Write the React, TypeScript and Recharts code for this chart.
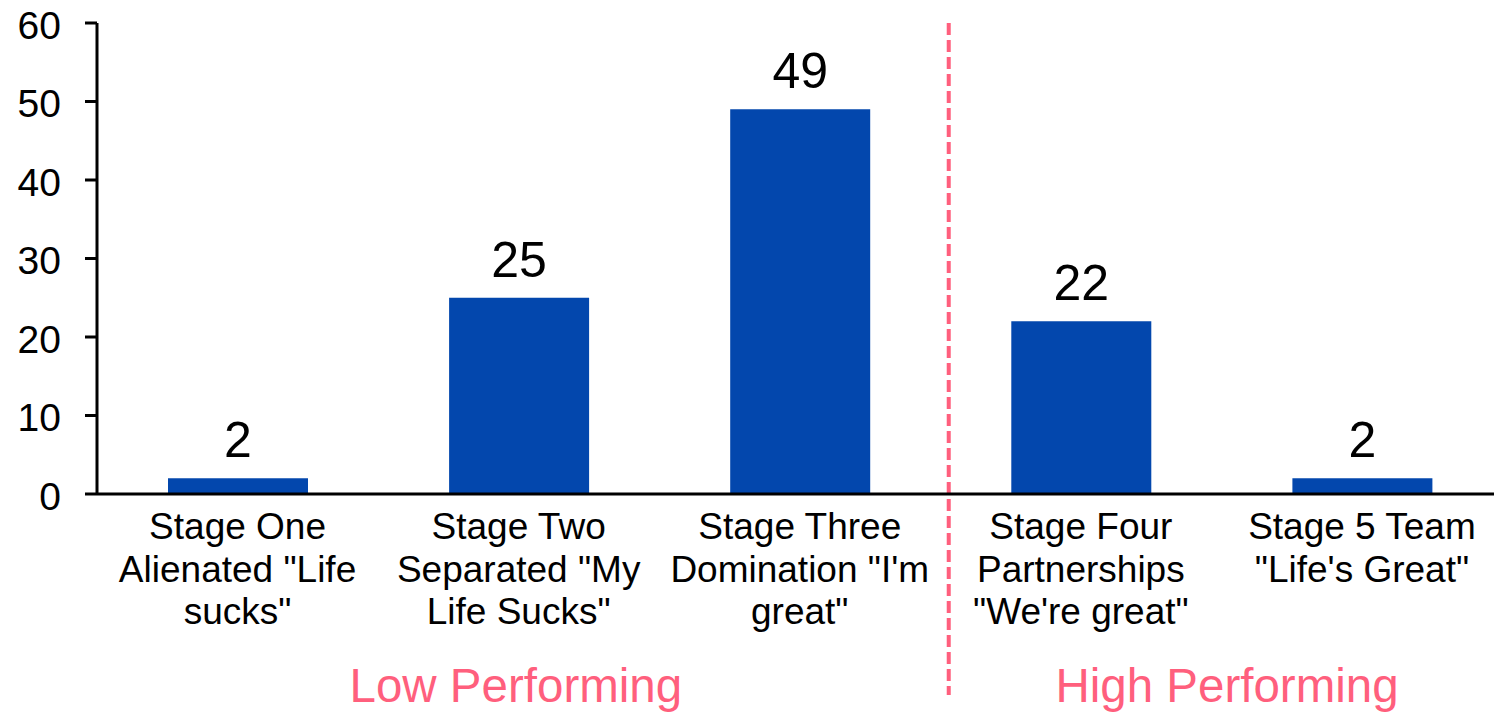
import React from "react";
import {
  BarChart,
  Bar,
  XAxis,
  YAxis,
  LabelList,
  ReferenceLine,
  ReferenceDot,
} from "recharts";

const categories = [
  'Stage One\nAlienated "Life\nsucks"',
  'Stage Two\nSeparated "My\nLife Sucks"',
  'Stage Three\nDomination "I\'m\ngreat"',
  'Stage Four\nPartnerships\n"We\'re great"',
  'Stage 5 Team\n"Life\'s Great"',
];
const values = [2, 25, 49, 22, 2];
const yTicks = [0, 10, 20, 30, 40, 50, 60];
const groupLabels = ["Low Performing", "High Performing"];
const groupCenters = [1.49, 4.02];
const dividerPos = 3.03;
const dividerRange = [60, -25.6];
const groupLabelY = -24.3;

const data = categories.map((c, i) => ({ name: c, value: values[i], pos: i + 0.5 }));

const FONT = "'Liberation Sans', Arial, Helvetica, sans-serif";
const PINK = "#FF5F7D";
const BLUE = "#0347AD";

const CategoryTick = (props: any) => {
  const { x, y, payload } = props;
  const lines = String(payload.value).split("\n");
  return (
    <g>
      {lines.map((l: string, i: number) => (
        <text
          key={i}
          x={x}
          y={y + 45 + i * 42.5}
          textAnchor="middle"
          fontSize={37}
          fontFamily={FONT}
          fill="#000"
        >
          {l}
        </text>
      ))}
    </g>
  );
};

export default function App() {
  return (
    <div style={{ position: "absolute", left: 0, top: 0, width: 1494, height: 712, overflow: "hidden", background: "#fff" }}>
      <BarChart
        width={1494}
        height={712}
        data={data}
        margin={{ top: 23, right: -8.5, bottom: 0, left: 0 }}
        barCategoryGap={0}
      >
        <XAxis
          dataKey="name"
          interval={0}
          tickLine={false}
          tickSize={0}
          tickMargin={0}
          height={218}
          axisLine={{ stroke: "#000", strokeWidth: 3 }}
          tick={<CategoryTick />}
        />
        <XAxis
          xAxisId="num"
          dataKey="pos"
          type="number"
          domain={[0, 5]}
          allowDataOverflow
          hide
        />
        <YAxis
          domain={[0, 60]}
          ticks={yTicks}
          width={97}
          tickSize={12}
          tickMargin={24}
          axisLine={{ stroke: "#000", strokeWidth: 3 }}
          tickLine={{ stroke: "#000", strokeWidth: 3 }}
          tick={{ fill: "#000", fontSize: 39, fontFamily: FONT, dy: 2 }}
        />
        <Bar dataKey="value" fill={BLUE} barSize={140} isAnimationActive={false}>
          <LabelList
            dataKey="value"
            position="top"
            offset={21}
            fill="#000"
            fontSize={50}
            fontFamily={FONT}
          />
        </Bar>
        <ReferenceLine
          xAxisId="num"
          segment={[
            { x: dividerPos, y: dividerRange[0] },
            { x: dividerPos, y: dividerRange[1] },
          ]}
          ifOverflow="visible"
          stroke={PINK}
          strokeWidth={4}
          strokeDasharray="12 5"
        />
        {groupLabels.map((g, i) => (
          <ReferenceDot
            key={g}
            xAxisId="num"
            x={groupCenters[i]}
            y={groupLabelY}
            r={0}
            fill="none"
            stroke="none"
            ifOverflow="visible"
            label={{ value: g, position: "center", fill: PINK, fontSize: 47.5, fontFamily: FONT }}
          />
        ))}
      </BarChart>
    </div>
  );
}
